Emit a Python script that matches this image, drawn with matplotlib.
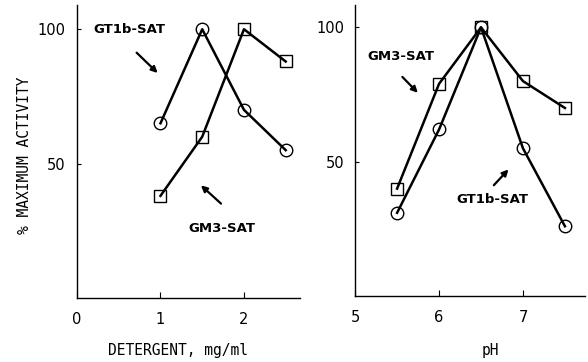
import matplotlib
matplotlib.use('Agg')
from matplotlib import pyplot as plt

# detergent panel
det_x = [1.0, 1.5, 2.0, 2.5]
det_gt1b = [65, 100, 70, 55]
det_gm3 = [38, 60, 100, 88]

# pH panel
ph_x = [5.5, 6.0, 6.5, 7.0, 7.5]
ph_gm3 = [40, 79, 100, 80, 70]
ph_gt1b = [31, 62, 100, 55, 26]

ylabel = "% MAXIMUM ACTIVITY"
xlabel_left = "DETERGENT, mg/ml"
xlabel_right = "pH"

fig = plt.figure(figsize=(5.88, 3.62), dpi=100)
ax1 = fig.add_axes([0.131, 0.177, 0.379, 0.809])
ax2 = fig.add_axes([0.604, 0.182, 0.391, 0.804])

line_kw = dict(color='black', lw=1.8, markersize=9, markerfacecolor='none',
               markeredgewidth=1.0)

ax1.plot(det_x, det_gt1b, marker='o', **line_kw)
ax1.plot(det_x, det_gm3, marker='s', **line_kw)
ax2.plot(ph_x, ph_gm3, marker='s', **line_kw)
ax2.plot(ph_x, ph_gt1b, marker='o', **line_kw)

ax1.set_xlim(0, 2.67)
ax1.set_ylim(0, 109)
ax1.set_xticks([0, 1, 2])
ax2.set_xlim(5, 7.74)
ax2.set_ylim(0, 108.3)
ax2.set_xticks([5, 6, 7])

for ax in (ax1, ax2):
    ax.set_yticks([50, 100])
    for s in ('top', 'right'):
        ax.spines[s].set_visible(False)
    ax.spines['left'].set_linewidth(1.0)
    ax.spines['bottom'].set_linewidth(1.0)
    ax.tick_params(axis='x', direction='in', length=4, pad=10, labelsize=10.5)
    ax.tick_params(axis='y', direction='in', length=3, pad=8, labelsize=10.5)

# axis titles placed where the original has them
lab = dict(family='DejaVu Sans Mono', fontsize=10.5, ha='center', va='center')
fig.text(178 / 588, 1 - 350 / 362, xlabel_left, **lab)
fig.text(490 / 588, 1 - 350 / 362, xlabel_right, **lab)
fig.text(25 / 588, 1 - 155 / 362, ylabel, rotation=90, **lab)

arrow = dict(arrowstyle='-|>', color='black', lw=1.6, mutation_scale=9)
lab_kw = dict(fontsize=9.5, fontweight='bold', ha='center', va='center')

ax1.text(0.63, 100, "GT1b-SAT", **lab_kw)
ax1.annotate("", xy=(0.99, 83), xytext=(0.69, 92), arrowprops=arrow)
ax1.text(1.73, 26, "GM3-SAT", **lab_kw)
ax1.annotate("", xy=(1.46, 42.6), xytext=(1.75, 34.4), arrowprops=arrow)

ax2.text(5.54, 89, "GM3-SAT", **lab_kw)
ax2.annotate("", xy=(5.77, 74.9), xytext=(5.54, 82.3), arrowprops=arrow)
ax2.text(6.63, 36, "GT1b-SAT", **lab_kw)
ax2.annotate("", xy=(6.85, 47.9), xytext=(6.63, 40.5), arrowprops=arrow)

fig.savefig('out.png', dpi=100)
